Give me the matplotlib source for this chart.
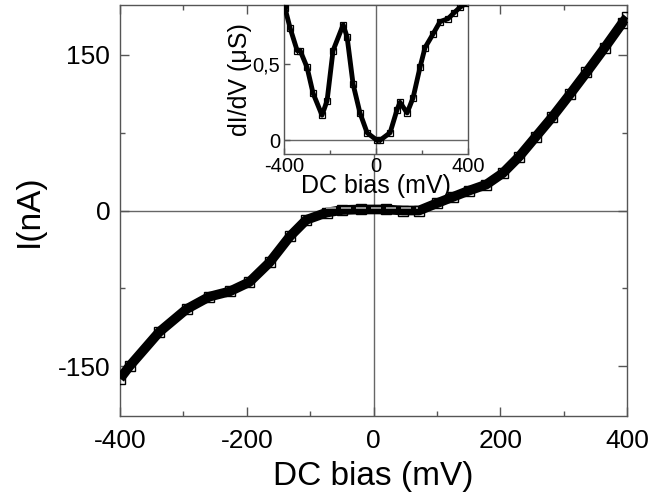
import matplotlib
matplotlib.use('Agg')
import matplotlib.pyplot as plt
from matplotlib.ticker import MultipleLocator, FixedLocator

plt.rcParams['font.family'] = ['Liberation Sans', 'DejaVu Sans']
plt.rcParams['axes.unicode_minus'] = False

# main I-V curve
bias_mv = [-400, -385, -338, -295, -259, -227, -196, -164, -132, -106, -74, -49,
           -20, 20, 46, 72, 100, 125, 150, 178, 204, 230, 256, 282, 310, 336,
           365, 393, 400]
current_na = [-162, -150, -117, -95, -83, -78, -69, -50, -25, -9, -2, 0.5,
              1, 1, 0, 0, 7, 13, 19, 25, 36, 52, 71, 90, 112, 133,
              157, 181, 186]

# dashed fit near zero bias
fit_mv = [-75, 70]
fit_na = [2, 2]

# inset dI/dV
g_mv = [-400, -396, -374, -343, -330, -300, -274, -235, -213, -187, -143, -126,
        -100, -70, -39, 4, 17, 61, 91, 104, 135, 161, 191, 213, 248, 278,
        313, 340, 365, 390]
g_us = [0.89, 0.87, 0.74, 0.59, 0.59, 0.48, 0.31, 0.165, 0.26, 0.59, 0.76, 0.68,
        0.37, 0.18, 0.05, 0.0, 0.0, 0.05, 0.2, 0.25, 0.18, 0.28, 0.48, 0.61,
        0.70, 0.78, 0.80, 0.84, 0.875, 0.9]

SPINE = '#555555'

fig = plt.figure(figsize=(6.53, 5.0), dpi=100)
ax = fig.add_axes([0.1838, 0.168, 0.7764, 0.822])

ax.axhline(0, color='#666666', lw=1, zorder=1)
ax.axvline(0, color='#666666', lw=1, zorder=1)
ax.plot(bias_mv, current_na, color='black', lw=7, solid_capstyle='butt',
        solid_joinstyle='round', marker='s', ms=6.5, mfc='none', mec='black',
        mew=1, zorder=3)
ax.plot(fit_mv, fit_na, color='#aaaaaa', lw=1.2, ls=(0, (6, 3)), zorder=4)

ax.set_xlim(-400, 400)
ax.set_ylim(-198, 198)
ax.xaxis.set_major_locator(MultipleLocator(200))
ax.xaxis.set_minor_locator(MultipleLocator(100))
ax.yaxis.set_major_locator(FixedLocator([-150, 0, 150]))
ax.yaxis.set_minor_locator(FixedLocator([-75, 75]))
ax.tick_params(which='both', direction='in', top=True, right=True,
               color=SPINE, labelsize=19)
ax.tick_params(which='major', length=6.5, width=1)
ax.tick_params(which='minor', length=3.5, width=1)
ax.tick_params(axis='x', pad=9)
ax.tick_params(axis='y', pad=7)
for s in ax.spines.values():
    s.set_color(SPINE)
    s.set_linewidth(1)
ax.set_xlabel('DC bias (mV)', fontsize=24, labelpad=6)
ax.set_ylabel('I(nA)', fontsize=24, labelpad=9)

# inset
axi = fig.add_axes([0.435, 0.692, 0.2818, 0.298])
axi.axhline(0, color='#666666', lw=1, zorder=1)
axi.axvline(0, color='#666666', lw=1, zorder=1)
axi.plot(g_mv, g_us, color='black', lw=3.5, solid_joinstyle='round',
         marker='s', ms=4.5, mfc='none', mec='black', mew=0.9, zorder=3)
axi.set_xlim(-400, 400)
axi.set_ylim(-0.09, 0.89)
axi.xaxis.set_major_locator(MultipleLocator(400))
axi.xaxis.set_minor_locator(MultipleLocator(200))
axi.yaxis.set_major_locator(FixedLocator([0, 0.5]))
axi.set_yticklabels(['0', '0,5'])
axi.tick_params(which='both', direction='in', color=SPINE, labelsize=14.5)
axi.tick_params(which='major', length=4, width=1)
axi.tick_params(which='minor', length=3, width=1)
axi.tick_params(axis='x', pad=2)
axi.tick_params(axis='y', pad=3)
for s in axi.spines.values():
    s.set_color(SPINE)
    s.set_linewidth(1)
axi.set_xlabel('DC bias (mV)', fontsize=18, labelpad=-1)
axi.set_ylabel('dI/dV (μS)', fontsize=18, labelpad=0)

fig.savefig('out.png', dpi=100, facecolor='white')
